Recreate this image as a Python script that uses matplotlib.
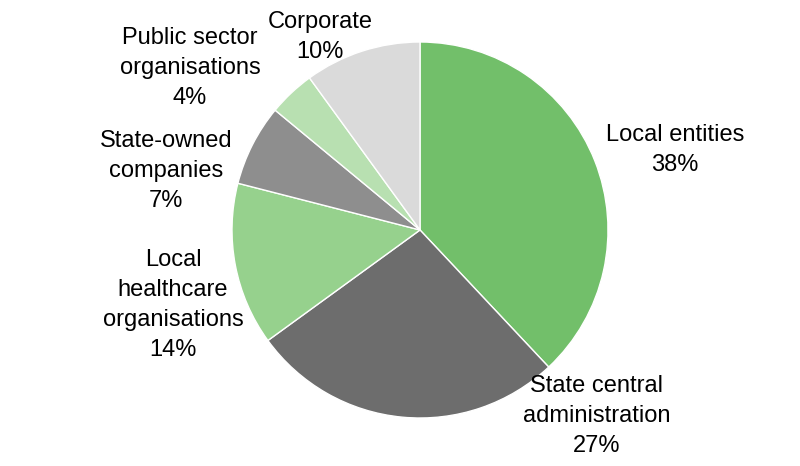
import matplotlib.pyplot as plt

# slice data, clockwise from 12 o'clock
categories = ["Local entities", "State central\nadministration", "Local\nhealthcare\norganisations",
              "State-owned\ncompanies", "Public sector\norganisations", "Corporate"]
shares = [38, 27, 14, 7, 4, 10]
colors = ["#72BF6A", "#6D6D6D", "#96D18D", "#8E8E8E", "#B8E0B1", "#DADADA"]

# label centres in pixel coords (x from left, y from top)
label_pos = [(675, 150), (597, 416), (173, 305), (166, 171), (190, 68), (320, 37)]

plt.rcParams['font.family'] = ['Liberation Sans', 'DejaVu Sans']

W, H = 800, 466
fig = plt.figure(figsize=(W / 100, H / 100), dpi=100)
ax = fig.add_axes([0, 0, 1, 1])

ax.pie(shares, colors=colors, startangle=90, counterclock=False,
       center=(420, H - 230), radius=188, frame=True,
       wedgeprops=dict(edgecolor='white', linewidth=1))

# pie resets the limits, so fix them afterwards
ax.set_xlim(0, W)
ax.set_ylim(0, H)
ax.set_aspect('equal')
ax.axis('off')

for name, val, (px, py) in zip(categories, shares, label_pos):
    ax.text(px, H - py, f"{name}\n{val}%", ha='center', va='center',
            fontsize=17, linespacing=1.48, color='black')

fig.savefig("out.png", dpi=100)
